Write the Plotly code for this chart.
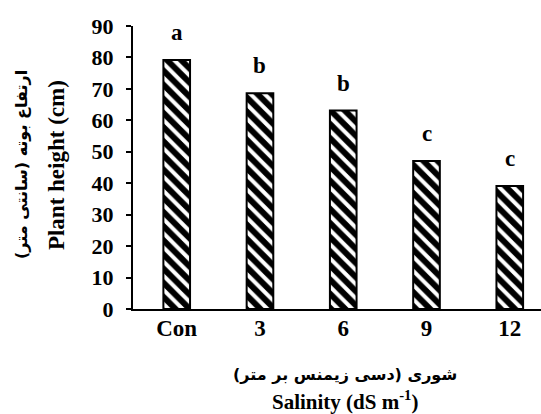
import plotly.graph_objects as go

categories = ["Con", "3", "6", "9", "12"]
heights = [79.2, 68.6, 63.1, 47.1, 39.1]
letters = ["a", "b", "b", "c", "c"]
y_ticks = [0, 10, 20, 30, 40, 50, 60, 70, 80, 90]

FONT = "Liberation Serif"
PFONT = "DejaVu Sans"

fig = go.Figure()
fig.add_trace(go.Bar(
    x=categories, y=heights, width=0.32,
    marker=dict(color="white", line=dict(color="black", width=2),
                pattern=dict(shape="\\", fgcolor="black", bgcolor="white",
                             fgopacity=1, size=10, solidity=0.6)),
))

for i, (h, t) in enumerate(zip(heights, letters)):
    fig.add_annotation(x=i, y=h, text=t, showarrow=False, yanchor="bottom", yshift=13,
                       font=dict(family=FONT, size=23, color="black", weight="bold"))

# axis titles
fig.add_annotation(xref="paper", yref="paper", x=-0.272, y=0.509, text="ارتفاع بوته (سانتی متر)",
                   textangle=-90, showarrow=False, xanchor="center", yanchor="middle",
                   font=dict(family=PFONT, size=16, color="black", weight="bold"))
fig.add_annotation(xref="paper", yref="paper", x=-0.186, y=0.509, text="Plant height (cm)",
                   textangle=-90, showarrow=False, xanchor="center", yanchor="middle",
                   font=dict(family=FONT, size=23, color="black", weight="bold"))
fig.add_annotation(xref="paper", yref="paper", x=0.52, y=-0.23, text="شوری (دسی زیمنس بر متر)",
                   showarrow=False, xanchor="center", yanchor="middle",
                   font=dict(family=PFONT, size=16, color="black", weight="bold"))
fig.add_annotation(xref="paper", yref="paper", x=0.52, y=-0.324, text="Salinity (dS m<sup>-1</sup>)",
                   showarrow=False, xanchor="center", yanchor="middle",
                   font=dict(family=FONT, size=21, color="black", weight="bold"))

fig.update_layout(
    width=541, height=414,
    margin=dict(l=133, r=0, t=26, b=105),
    plot_bgcolor="white", paper_bgcolor="white",
    showlegend=False,
    font=dict(family=FONT, color="black"),
)
fig.update_xaxes(
    type="category", range=[-0.525, 4.375],
    showline=True, linecolor="black", linewidth=2,
    ticks="", ticklabelstandoff=-3,
    tickfont=dict(family=FONT, size=23, color="black", weight="bold"),
)
fig.update_yaxes(
    range=[0, 90], tickvals=y_ticks,
    showline=True, linecolor="black", linewidth=2, showgrid=False, zeroline=False,
    ticks="outside", ticklen=5, tickwidth=2, tickcolor="black",
    ticklabelstandoff=8,
    tickfont=dict(family=FONT, size=22, color="black", weight="bold"),
)
fig.write_html("out.html")
